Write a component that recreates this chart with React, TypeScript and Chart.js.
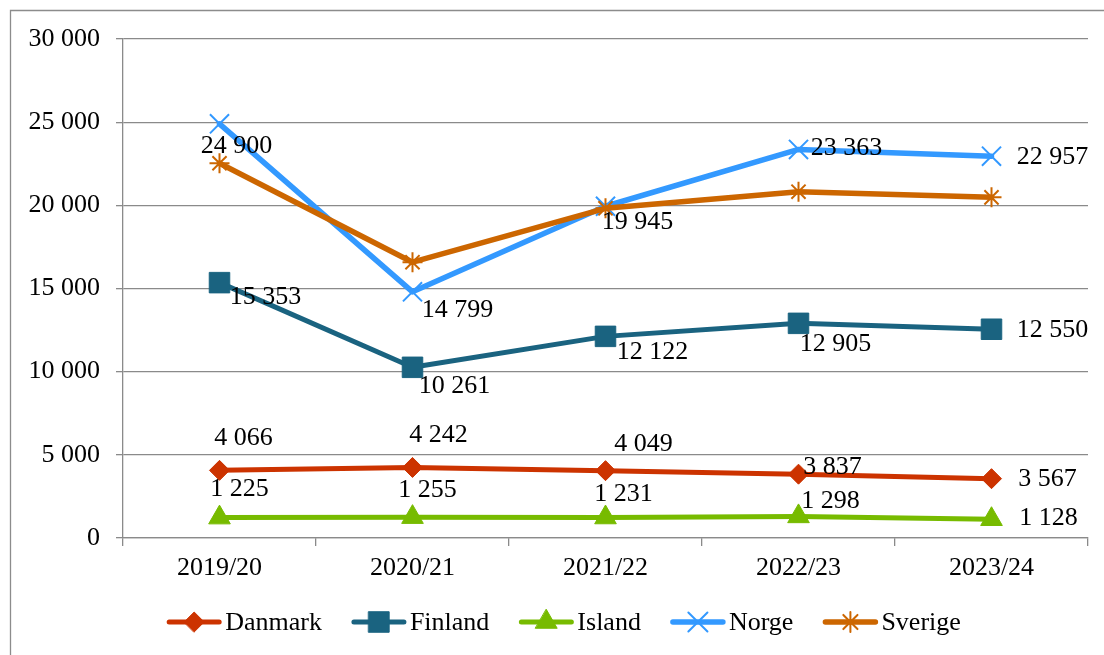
import React, { useEffect, useRef } from 'react';
import { Chart, registerables } from 'chart.js';
import { drawPoint } from 'chart.js/helpers';

Chart.register(...registerables);

// ---- data ----
const categories = ['2019/20', '2020/21', '2021/22', '2022/23', '2023/24'];
const seriesNames = ['Danmark', 'Finland', 'Island', 'Norge', 'Sverige'];
const danmark = [4066, 4242, 4049, 3837, 3567];
const finland = [15353, 10261, 12122, 12905, 12550];
const island = [1225, 1255, 1231, 1298, 1128];
const norge = [24900, 14799, 19945, 23363, 22957];
const sverige = [22530, 16580, 19820, 20820, 20480];
const yTickValues = [0, 5000, 10000, 15000, 20000, 25000, 30000];

// ---- label placement (offsets from each point, px) ----
const danmarkLabelOffsets = [[24, -32], [26, -32], [38, -26], [34, -7], [56, 1]];
const finlandLabelOffsets = [[46, 15], [42, 19], [47, 16], [37, 21], [61, 1]];
const islandLabelOffsets = [[20, -28], [15, -27], [18, -23], [32, -15], [57, -1]];
const norgeLabelOffsets = [[17, 22], [45, 18], [32, 16], [48, -1], [61, 1]];

const FONT = "'Liberation Serif', 'Times New Roman', serif";
const GRID = '#8a8a8a';

const fmt = (v: number) => String(v).replace(/\B(?=(\d{3})+(?!\d))/g, ' ');

const styles = [
  { color: '#cc3300', pointStyle: 'rectRot', radius: 10, width: 5, pbw: 1, order: 5, offsets: danmarkLabelOffsets },
  { color: '#1a6380', pointStyle: 'rect', radius: 14.5, width: 5, pbw: 1, order: 4, offsets: finlandLabelOffsets },
  { color: '#77bb00', pointStyle: 'triangle', radius: 12.5, width: 5, pbw: 1, order: 3, offsets: islandLabelOffsets },
  { color: '#3399ff', pointStyle: 'crossRot', radius: 13.5, width: 5.5, pbw: 2, order: 2, offsets: norgeLabelOffsets },
  { color: '#cc6600', pointStyle: 'star', radius: 10, width: 5.5, pbw: 2, order: 1, offsets: null as null | number[][] },
];
const seriesData = [danmark, finland, island, norge, sverige];

const framePlugin = {
  id: 'frame',
  beforeDraw(chart: any) {
    const ctx = chart.ctx;
    ctx.save();
    ctx.fillStyle = '#fff';
    ctx.fillRect(0, 0, chart.width, chart.height);
    ctx.strokeStyle = '#8c8c8c';
    ctx.lineWidth = 1.3;
    ctx.beginPath();
    ctx.moveTo(10.5, chart.height + 2);
    ctx.lineTo(10.5, 10.5);
    ctx.lineTo(chart.width + 2, 10.5);
    ctx.stroke();
    ctx.restore();
  },
};

const labelPlugin = {
  id: 'valueLabels',
  afterDatasetsDraw(chart: any) {
    const ctx = chart.ctx;
    ctx.save();
    ctx.font = `26px ${FONT}`;
    ctx.fillStyle = '#000';
    ctx.textAlign = 'center';
    ctx.textBaseline = 'middle';
    chart.data.datasets.forEach((ds: any, di: number) => {
      const offs = styles[di].offsets;
      if (!offs) return;
      const meta = chart.getDatasetMeta(di);
      meta.data.forEach((pt: any, i: number) => {
        const [dx, dy] = offs[i];
        ctx.fillText(fmt(ds.data[i]), pt.x + dx, pt.y + dy);
      });
    });
    ctx.restore();
  },
};

const legendPlugin = {
  id: 'customLegend',
  afterDraw(chart: any) {
    const ctx = chart.ctx;
    ctx.save();
    ctx.font = `26px ${FONT}`;
    const lineLen = 54;
    const gapText = 4;
    const gapItem = 30;
    const widths = seriesNames.map((n) => ctx.measureText(n).width);
    const total = widths.reduce((a, w) => a + lineLen + gapText + w, 0) + gapItem * (seriesNames.length - 1);
    let x = 564 - total / 2;
    const y = 622;
    seriesNames.forEach((name, i) => {
      const s = styles[i];
      ctx.strokeStyle = s.color;
      ctx.fillStyle = s.color;
      ctx.lineWidth = s.width;
      ctx.lineCap = 'round';
      ctx.beginPath();
      ctx.moveTo(x + 2, y);
      ctx.lineTo(x + lineLen - 2, y);
      ctx.stroke();
      ctx.lineWidth = s.pbw;
      drawPoint(ctx, { pointStyle: s.pointStyle as any, radius: s.radius, rotation: 0, borderWidth: s.pbw }, x + lineLen / 2, y);
      ctx.fillStyle = '#000';
      ctx.textAlign = 'left';
      ctx.textBaseline = 'middle';
      ctx.fillText(name, x + lineLen + gapText, y + 1);
      x += lineLen + gapText + widths[i] + gapItem;
    });
    ctx.restore();
  },
};

export default function App() {
  const ref = useRef<HTMLCanvasElement | null>(null);
  useEffect(() => {
    if (!ref.current) return;
    const chart = new Chart(ref.current, {
      type: 'line',
      data: {
        labels: categories,
        datasets: seriesNames.map((name, i) => ({
          label: name,
          data: seriesData[i],
          borderColor: styles[i].color,
          backgroundColor: styles[i].color,
          pointBackgroundColor: styles[i].color,
          pointBorderColor: styles[i].color,
          pointStyle: styles[i].pointStyle as any,
          pointRadius: styles[i].radius,
          pointBorderWidth: styles[i].pbw,
          borderWidth: styles[i].width,
          borderJoinStyle: 'round',
          borderCapStyle: 'round',
          tension: 0,
          fill: false,
          order: styles[i].order,
        })),
      },
      options: {
        animation: false,
        responsive: false,
        devicePixelRatio: 1,
        layout: { padding: { top: 39, right: 16, bottom: 0, left: 0 } },
        plugins: {
          legend: { display: false },
          tooltip: { enabled: false },
        },
        scales: {
          x: {
            offset: true,
            grid: { offset: true, drawOnChartArea: false, drawTicks: true, tickLength: 8, color: GRID, lineWidth: 1.3 },
            border: { display: true, color: GRID, width: 1.3 },
            ticks: { color: '#000', font: { family: FONT, size: 26 }, padding: 7, maxRotation: 0, autoSkip: false },
            afterFit: (s: any) => { s.height = 117; },
          },
          y: {
            min: 0,
            max: 30000,
            afterBuildTicks: (s: any) => { s.ticks = yTickValues.map((v) => ({ value: v })); },
            ticks: { color: '#000', font: { family: FONT, size: 26 }, padding: 16, callback: (v: any) => fmt(Number(v)) },
            grid: { color: GRID, lineWidth: 1.3, tickLength: 7, drawTicks: true },
            border: { display: true, color: GRID, width: 1.3 },
            afterFit: (s: any) => { s.width = 123; },
          },
        },
      },
      plugins: [framePlugin, labelPlugin, legendPlugin],
    });
    return () => chart.destroy();
  }, []);
  return (
    <div style={{ position: 'fixed', left: 0, top: 0, width: 1104, height: 655, background: '#fff' }}>
      <canvas ref={ref} width={1104} height={655} style={{ display: 'block' }} />
    </div>
  );
}
